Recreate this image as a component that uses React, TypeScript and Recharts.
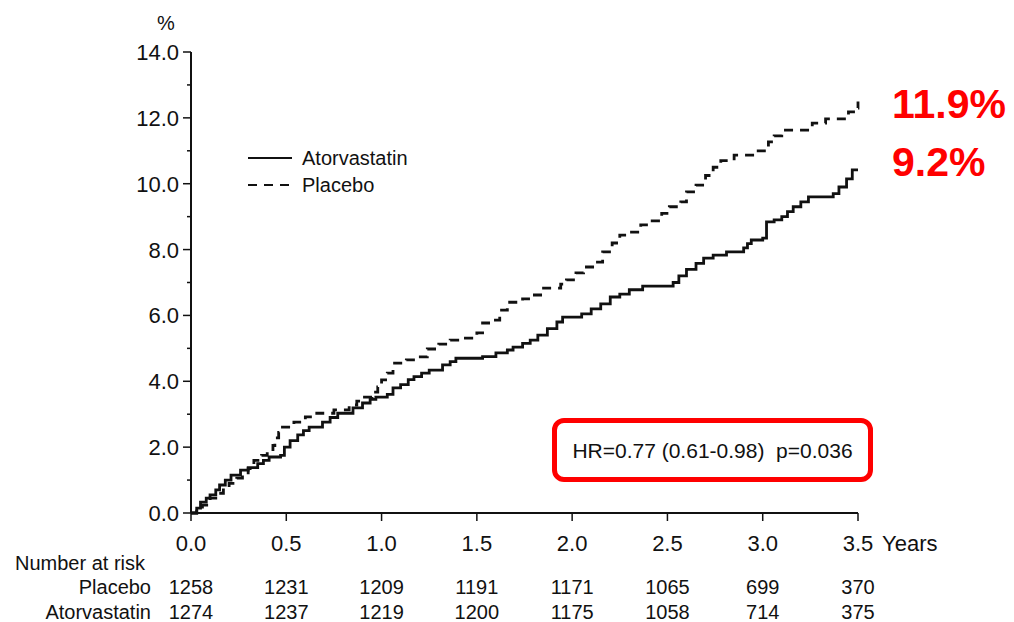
import { LineChart, Line, XAxis, YAxis } from 'recharts'

// years on the x axis and the number-at-risk table below it
const YEARS = [0, 0.5, 1, 1.5, 2, 2.5, 3, 3.5]
const AT_RISK_PLACEBO = [1258, 1231, 1209, 1191, 1171, 1065, 699, 370]
const AT_RISK_ATORVA = [1274, 1237, 1219, 1200, 1175, 1058, 714, 375]
const Y_TICKS = [0, 1, 2, 3, 4, 5, 6, 7, 8, 9, 10, 11, 12, 13, 14]

// cumulative incidence (%), step curves
const ATORVA_T = [
  0, 0.03, 0.05, 0.08, 0.1, 0.13, 0.15, 0.18, 0.21, 0.26, 0.3, 0.35, 0.38, 0.41, 0.47, 0.49,
  0.52, 0.56, 0.59, 0.62, 0.69, 0.73, 0.77, 0.85, 0.9, 0.94, 0.97, 1.03, 1.06, 1.1, 1.14, 1.17,
  1.21, 1.25, 1.32, 1.36, 1.39, 1.53, 1.6, 1.66, 1.69, 1.74, 1.78, 1.82, 1.87, 1.92, 1.95, 2.05,
  2.1, 2.15, 2.2, 2.25, 2.3, 2.37, 2.53, 2.56, 2.6, 2.65, 2.69, 2.74, 2.81, 2.9, 2.92, 2.94,
  3.0, 3.02, 3.06, 3.1, 3.13, 3.16, 3.2, 3.24, 3.37, 3.4, 3.44, 3.47, 3.5,
]
const ATORVA_PCT = [
  0, 0.15, 0.33, 0.45, 0.55, 0.7, 0.85, 1.0, 1.15, 1.3, 1.38, 1.5, 1.6, 1.7, 1.75, 2.0,
  2.2, 2.37, 2.5, 2.61, 2.76, 2.9, 3.03, 3.19, 3.34, 3.45, 3.52, 3.6, 3.8, 3.9, 4.05, 4.14,
  4.25, 4.34, 4.5, 4.6, 4.7, 4.75, 4.86, 4.95, 5.04, 5.15, 5.25, 5.4, 5.6, 5.8, 5.95, 6.05,
  6.2, 6.35, 6.56, 6.65, 6.78, 6.89, 7.0, 7.2, 7.4, 7.58, 7.74, 7.83, 7.93, 8.05, 8.18, 8.29,
  8.35, 8.84, 8.9, 9.0, 9.15, 9.3, 9.45, 9.6, 9.7, 9.9, 10.15, 10.42, 10.42,
]
const PLACEBO_T = [
  0, 0.03, 0.06, 0.1, 0.13, 0.17, 0.2, 0.24, 0.27, 0.3, 0.33, 0.37, 0.4, 0.43, 0.44, 0.46,
  0.48, 0.54, 0.6, 0.66, 0.75, 0.83, 0.87, 0.9, 0.95, 0.98, 1.0, 1.03, 1.06, 1.13, 1.18, 1.24,
  1.3, 1.36, 1.44, 1.5, 1.53, 1.59, 1.62, 1.66, 1.74, 1.79, 1.85, 1.94, 1.97, 2.02, 2.06, 2.12,
  2.16, 2.21, 2.25, 2.3, 2.36, 2.42, 2.47, 2.51, 2.57, 2.6, 2.65, 2.7, 2.74, 2.78, 2.85, 2.96,
  3.03, 3.06, 3.1, 3.26, 3.33, 3.45, 3.49, 3.5,
]
const PLACEBO_PCT = [
  0, 0.1, 0.24, 0.45, 0.6, 0.75, 0.9, 1.06, 1.15, 1.35, 1.6, 1.75, 1.85, 2.05, 2.28, 2.45,
  2.61, 2.76, 2.92, 3.03, 3.13, 3.28, 3.4, 3.52, 3.67, 3.83, 4.04, 4.25, 4.55, 4.65, 4.74, 4.98,
  5.13, 5.25, 5.31, 5.47, 5.77, 5.86, 6.16, 6.4, 6.5, 6.62, 6.83, 6.95, 7.08, 7.29, 7.47, 7.62,
  7.93, 8.2, 8.44, 8.53, 8.75, 8.87, 9.1, 9.3, 9.45, 9.75, 9.96, 10.25, 10.5, 10.7, 10.87, 11.0,
  11.27, 11.45, 11.63, 11.84, 11.97, 12.18, 12.3, 12.5,
]

const atorvaData = ATORVA_T.map((t, i) => ({ t, pct: ATORVA_PCT[i] }))
const placeboData = PLACEBO_T.map((t, i) => ({ t, pct: PLACEBO_PCT[i] }))

const FONT = '"Liberation Sans", Arial, Helvetica, sans-serif'
const INK = '#111'

function YTick({ x, y, payload }: any) {
  const major = payload.value % 2 === 0
  return (
    <g>
      <line x1={x - (major ? 8 : 4)} x2={x} y1={y} y2={y} stroke={INK} strokeWidth={1.5} />
      {major && (
        <text x={x - 12} y={y + 8} textAnchor="end" fontSize={22} fontFamily={FONT} fill={INK}>
          {payload.value.toFixed(1)}
        </text>
      )}
    </g>
  )
}

function XTick({ x, y, payload, index }: any) {
  const last = index === YEARS.length - 1
  return (
    <g fontFamily={FONT} fill={INK}>
      <line x1={x} x2={x} y1={y} y2={y + 8} stroke={INK} strokeWidth={1.5} />
      <text x={x} y={y + 38} textAnchor="middle" fontSize={22}>
        {payload.value.toFixed(1)}
      </text>
      {last && (
        <text x={x + 24} y={y + 38} textAnchor="start" fontSize={22}>
          Years
        </text>
      )}
      {index === 0 && (
        <>
          <text x={x - 176} y={y + 57} textAnchor="start" fontSize={20}>
            Number at risk
          </text>
          <text x={x - 40} y={y + 81} textAnchor="end" fontSize={20}>
            Placebo
          </text>
          <text x={x - 40} y={y + 106} textAnchor="end" fontSize={20}>
            Atorvastatin
          </text>
        </>
      )}
      <text x={x} y={y + 81} textAnchor="middle" fontSize={20}>
        {AT_RISK_PLACEBO[index]}
      </text>
      <text x={x} y={y + 106} textAnchor="middle" fontSize={20}>
        {AT_RISK_ATORVA[index]}
      </text>
    </g>
  )
}

export default function App() {
  return (
    <div style={{ position: 'absolute', left: 0, top: 0, width: 1014, height: 622, background: '#fff', fontFamily: FONT }}>
      <LineChart width={1014} height={622} margin={{ top: 52, right: 156, left: 131, bottom: 79 }}>
        <XAxis
          type="number"
          dataKey="t"
          domain={[0, 3.5]}
          ticks={YEARS}
          tick={<XTick />}
          tickSize={0}
          tickMargin={0}
          tickLine={false}
          axisLine={{ stroke: INK, strokeWidth: 2 }}
          height={30}
          allowDuplicatedCategory={false}
          interval={0}
        />
        <YAxis
          type="number"
          domain={[0, 14]}
          ticks={Y_TICKS}
          tick={<YTick />}
          tickSize={0}
          tickMargin={0}
          tickLine={false}
          axisLine={{ stroke: INK, strokeWidth: 2 }}
          width={60}
          interval={0}
        />
        <Line
          data={placeboData}
          dataKey="pct"
          type="stepAfter"
          stroke={INK}
          strokeWidth={2.8}
          strokeDasharray="9 7"
          dot={false}
          isAnimationActive={false}
        />
        <Line
          data={atorvaData}
          dataKey="pct"
          type="stepAfter"
          stroke={INK}
          strokeWidth={2.8}
          dot={false}
          isAnimationActive={false}
        />
      </LineChart>

      {/* y axis unit */}
      <div style={{ position: 'absolute', left: 157, top: 12, fontSize: 20, color: INK }}>%</div>

      {/* legend */}
      <svg style={{ position: 'absolute', left: 240, top: 140 }} width={220} height={60}>
        <line x1={8} x2={52} y1={18} y2={18} stroke={INK} strokeWidth={2.2} />
        <line x1={8} x2={52} y1={45} y2={45} stroke={INK} strokeWidth={2.2} strokeDasharray="9 7" />
        <text x={62} y={25} fontSize={20} fontFamily={FONT} fill={INK}>Atorvastatin</text>
        <text x={62} y={52} fontSize={20} fontFamily={FONT} fill={INK}>Placebo</text>
      </svg>

      {/* hazard ratio box */}
      <div
        style={{
          position: 'absolute',
          left: 552,
          top: 418,
          width: 321,
          height: 64,
          boxSizing: 'border-box',
          border: '5px solid #ff0000',
          borderRadius: 12,
          display: 'flex',
          alignItems: 'center',
          justifyContent: 'center',
          fontSize: 21,
          whiteSpace: 'pre',
          color: INK,
          paddingTop: 2,
        }}
      >
        {'HR=0.77 (0.61-0.98)  p=0.036'}
      </div>

      {/* end-point labels */}
      <div style={{ position: 'absolute', left: 892, top: 84, fontSize: 41, lineHeight: '41px', fontWeight: 700, color: '#ff0000' }}>
        11.9%
      </div>
      <div style={{ position: 'absolute', left: 892, top: 142, fontSize: 41, lineHeight: '41px', fontWeight: 700, color: '#ff0000' }}>
        9.2%
      </div>
    </div>
  )
}
